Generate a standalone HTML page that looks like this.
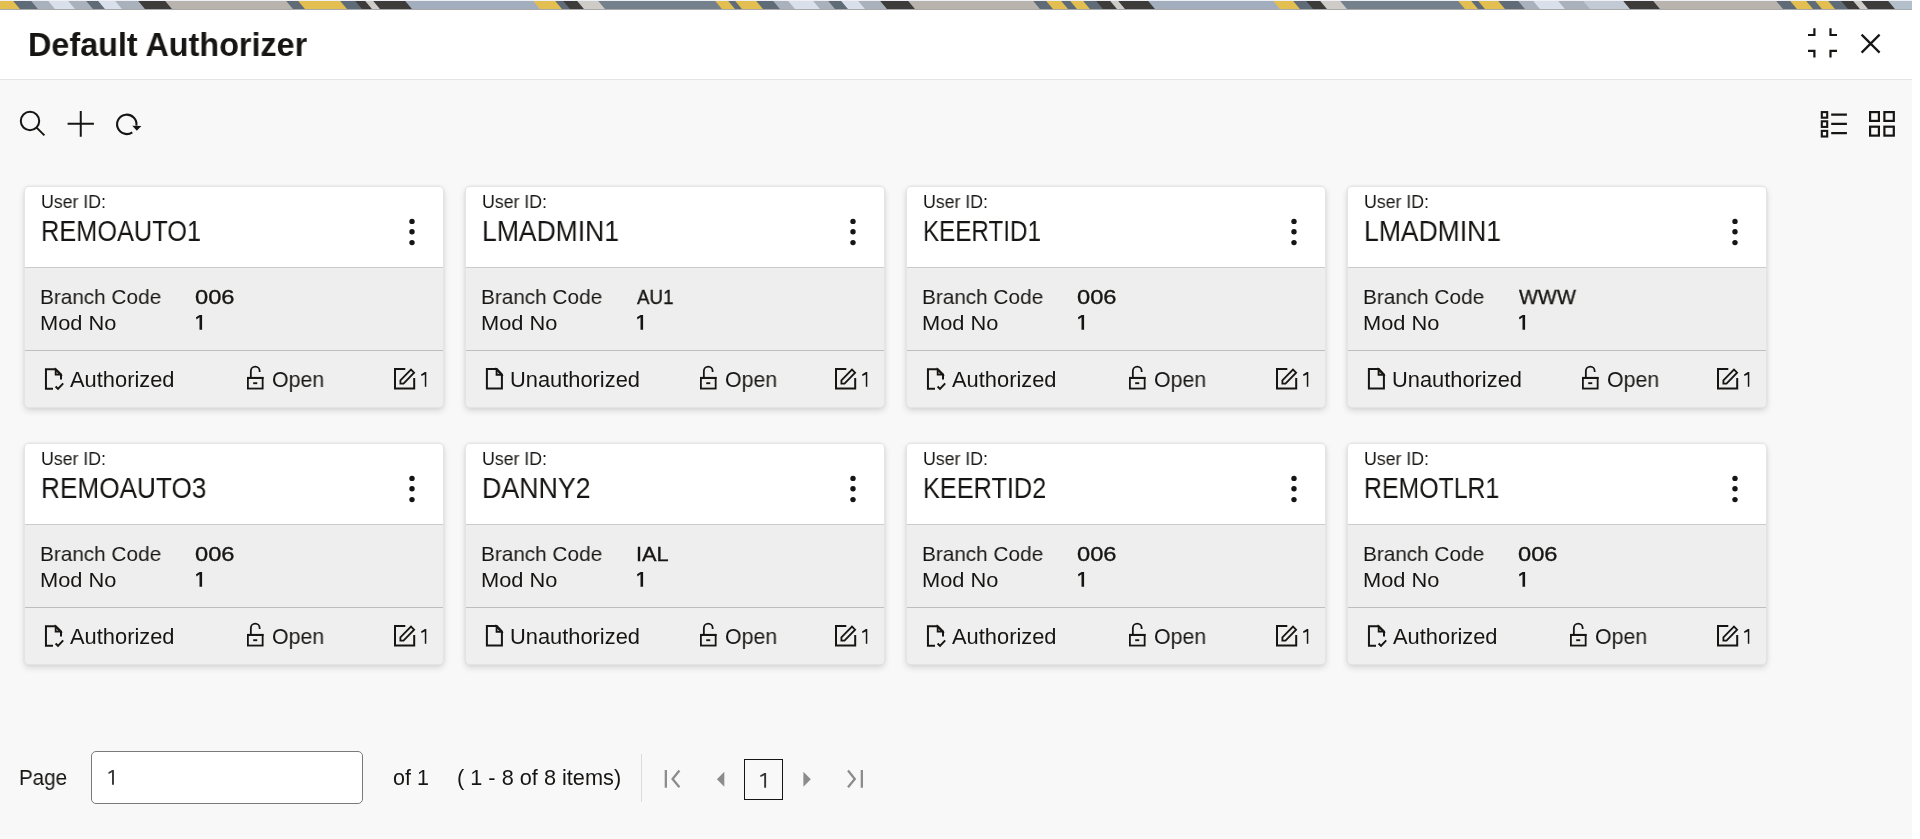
<!DOCTYPE html><html><head><meta charset="utf-8"><title>Default Authorizer</title><style>

*{margin:0;padding:0;box-sizing:border-box}
html,body{width:1920px;height:839px;overflow:hidden;background:#fff;font-family:"Liberation Sans",sans-serif}
.t{position:absolute;white-space:pre;line-height:1;font-family:"Liberation Sans",sans-serif;transform-origin:0 0;will-change:transform}
.ic{position:absolute;overflow:visible}
#strip{position:absolute;left:0;top:1px;width:1912px;height:9px;overflow:hidden;background:#8e99a6;border-bottom:1px solid #a9a9a9}
#top0{position:absolute;left:0;top:0;width:1912px;height:1px;background:#eef0f6}
#strip i{position:absolute;top:0;height:9px;transform:skewX(40deg)}
#hdr{position:absolute;left:0;top:10px;width:1912px;height:70px;background:#fff;border-bottom:1px solid #e4e4e4}
#main{position:absolute;left:0;top:80px;width:1912px;height:759px;background:#f8f8f8}
.card{position:absolute;width:420px;height:222px;border:1px solid #e4e4e4;border-radius:5px;background:#eeeeee;box-shadow:0 3px 6px rgba(0,0,0,0.13),0 0 3px rgba(0,0,0,0.06);overflow:hidden}
.card .hd{position:absolute;left:0;top:0;right:0;height:81px;background:#fff;border-bottom:1px solid #cbcbcb}
.card .ft{position:absolute;left:0;top:163px;right:0;bottom:0;background:#efefef;border-top:1px solid #bebebe}
#inp{position:absolute;left:91px;top:751px;width:272px;height:53px;border:1px solid #7a7a7a;border-radius:5px;background:#fff}
#sep{position:absolute;left:641px;top:754px;width:1px;height:48px;background:#dcdcdc}
#pbox{position:absolute;left:744px;top:759px;width:39px;height:41px;border:1px solid #161513}

</style></head><body>
<div id="top0"></div>
<div id="strip"><i style="left:-3px;width:21px;background:#e2bf50"></i><i style="left:17px;width:19px;background:#5f6c78"></i><i style="left:35px;width:18px;background:#a9b2bc"></i><i style="left:52px;width:21px;background:#d9e0eb"></i><i style="left:72px;width:19px;background:#a9b2bc"></i><i style="left:90px;width:13px;background:#5f6c78"></i><i style="left:102px;width:18px;background:#d9e0eb"></i><i style="left:119px;width:24px;background:#a9b2bc"></i><i style="left:142px;width:28px;background:#3d3c3a"></i><i style="left:169px;width:122px;background:#b8b3ad"></i><i style="left:290px;width:13px;background:#5f6c78"></i><i style="left:302px;width:43px;background:#e2bf50"></i><i style="left:344px;width:16px;background:#5f6c78"></i><i style="left:359px;width:11px;background:#3d3c3a"></i><i style="left:369px;width:9px;background:#cfccc7"></i><i style="left:377px;width:33px;background:#3d3c3a"></i><i style="left:409px;width:129px;background:#a2aebd"></i><i style="left:537px;width:23px;background:#e2bf50"></i><i style="left:559px;width:9px;background:#5f6c78"></i><i style="left:567px;width:15px;background:#3d3c3a"></i><i style="left:581px;width:22px;background:#cfccc7"></i><i style="left:602px;width:118px;background:#74818c"></i><i style="left:719px;width:14px;background:#e2bf50"></i><i style="left:732px;width:8px;background:#5f6c78"></i><i style="left:739px;width:22px;background:#e2bf50"></i><i style="left:760px;width:18px;background:#5f6c78"></i><i style="left:777px;width:16px;background:#a9b2bc"></i><i style="left:792px;width:26px;background:#d9e0eb"></i><i style="left:817px;width:16px;background:#a9b2bc"></i><i style="left:832px;width:14px;background:#5f6c78"></i><i style="left:845px;width:18px;background:#d9e0eb"></i><i style="left:862px;width:23px;background:#a9b2bc"></i><i style="left:884px;width:29px;background:#3d3c3a"></i><i style="left:912px;width:126px;background:#b8b3ad"></i><i style="left:1037px;width:14px;background:#5f6c78"></i><i style="left:1050px;width:16px;background:#e2bf50"></i><i style="left:1065px;width:10px;background:#5f6c78"></i><i style="left:1074px;width:14px;background:#e2bf50"></i><i style="left:1087px;width:14px;background:#5f6c78"></i><i style="left:1100px;width:15px;background:#3d3c3a"></i><i style="left:1114px;width:9px;background:#cfccc7"></i><i style="left:1122px;width:31px;background:#3d3c3a"></i><i style="left:1152px;width:126px;background:#a2aebd"></i><i style="left:1277px;width:21px;background:#e2bf50"></i><i style="left:1297px;width:14px;background:#5f6c78"></i><i style="left:1310px;width:15px;background:#3d3c3a"></i><i style="left:1324px;width:21px;background:#cfccc7"></i><i style="left:1344px;width:119px;background:#74818c"></i><i style="left:1462px;width:14px;background:#e2bf50"></i><i style="left:1475px;width:8px;background:#5f6c78"></i><i style="left:1482px;width:21px;background:#e2bf50"></i><i style="left:1502px;width:21px;background:#5f6c78"></i><i style="left:1522px;width:16px;background:#a9b2bc"></i><i style="left:1537px;width:26px;background:#d9e0eb"></i><i style="left:1562px;width:26px;background:#a9b2bc"></i><i style="left:1587px;width:41px;background:#c2cad6"></i><i style="left:1627px;width:31px;background:#3d3c3a"></i><i style="left:1657px;width:124px;background:#b8b3ad"></i><i style="left:1780px;width:15px;background:#5f6c78"></i><i style="left:1794px;width:17px;background:#e2bf50"></i><i style="left:1810px;width:10px;background:#5f6c78"></i><i style="left:1819px;width:14px;background:#e2bf50"></i><i style="left:1832px;width:14px;background:#5f6c78"></i><i style="left:1845px;width:13px;background:#3d3c3a"></i><i style="left:1857px;width:9px;background:#cfccc7"></i><i style="left:1865px;width:28px;background:#3d3c3a"></i><i style="left:1892px;width:28px;background:#b4bfcc"></i></div>
<div id="hdr"></div>
<div id="main"></div>
<div class="card" style="left:24px;top:186px"><div class="hd"></div><div class="ft"></div></div>
<div class="card" style="left:465px;top:186px"><div class="hd"></div><div class="ft"></div></div>
<div class="card" style="left:906px;top:186px"><div class="hd"></div><div class="ft"></div></div>
<div class="card" style="left:1347px;top:186px"><div class="hd"></div><div class="ft"></div></div>
<div class="card" style="left:24px;top:443px"><div class="hd"></div><div class="ft"></div></div>
<div class="card" style="left:465px;top:443px"><div class="hd"></div><div class="ft"></div></div>
<div class="card" style="left:906px;top:443px"><div class="hd"></div><div class="ft"></div></div>
<div class="card" style="left:1347px;top:443px"><div class="hd"></div><div class="ft"></div></div>
<div id="inp"></div><div id="sep"></div><div id="pbox"></div>
<svg class="ic" style="left:14px;top:106px" width="36" height="36" viewBox="0 0 36 36"><circle cx="16" cy="15" r="9.2" fill="none" stroke="#161513" stroke-width="2"/><path d="M22.6 21.6 L30.4 29.4" fill="none" stroke="#161513" stroke-width="2" stroke-linecap="butt"/></svg>
<svg class="ic" style="left:62px;top:105px" width="38" height="38" viewBox="0 0 38 38"><path d="M18.75 5.9 V31.8 M5.6 18.7 H31.9" fill="none" stroke="#161513" stroke-width="2"/></svg>
<svg class="ic" style="left:110px;top:106px" width="36" height="36" viewBox="0 0 36 36"><path d="M22.26 26.35 A9.7 9.7 0 1 1 26.4 19.6" fill="none" stroke="#161513" stroke-width="2.1"/><path d="M22.3 19.7 L31.4 20.1 L26.8 24.8 Z" fill="#161513"/></svg>
<svg class="ic" style="left:1800px;top:20px" width="45" height="45" viewBox="0 0 45 45"><path d="M8 15 H14.4 V8.3 M30.5 8.3 V15 H37 M8 30.8 H14.4 V37.5 M30.5 37.5 V30.8 H37" fill="none" stroke="#161513" stroke-width="2.2"/></svg>
<svg class="ic" style="left:1855px;top:27px" width="32" height="32" viewBox="0 0 32 32"><path d="M6.6 7.6 L24.6 25.6 M24.6 7.6 L6.6 25.6" fill="none" stroke="#161513" stroke-width="2.2"/></svg>
<svg class="ic" style="left:1815px;top:105px" width="40" height="40" viewBox="0 0 40 40"><rect x="6.8" y="7.1" width="5.4" height="5.6" fill="none" stroke="#161513" stroke-width="2.1"/><rect x="6.8" y="16.3" width="5.4" height="5.6" fill="none" stroke="#161513" stroke-width="2.1"/><rect x="6.8" y="25.9" width="5.4" height="5.6" fill="none" stroke="#161513" stroke-width="2.1"/><path d="M16.2 9.6 H31.9 M16.2 18.8 H31.9 M16.2 28.1 H31.9" fill="none" stroke="#161513" stroke-width="2.3"/></svg>
<svg class="ic" style="left:1865px;top:105px" width="40" height="40" viewBox="0 0 40 40"><rect x="5.1" y="7.1" width="8.8" height="8.8" fill="none" stroke="#161513" stroke-width="2.2"/><rect x="19.4" y="7.1" width="9.4" height="8.8" fill="none" stroke="#161513" stroke-width="2.2"/><rect x="5.1" y="21.7" width="8.8" height="8.9" fill="none" stroke="#161513" stroke-width="2.2"/><rect x="19.4" y="21.7" width="9.4" height="8.9" fill="none" stroke="#161513" stroke-width="2.2"/></svg>
<svg class="ic" style="left:405px;top:214px" width="14" height="30" viewBox="0 0 14 30"><circle cx="7" cy="7.4" r="2.7" fill="#161513"/><circle cx="7" cy="17.8" r="2.7" fill="#161513"/><circle cx="7" cy="28.6" r="2.7" fill="#161513"/></svg>
<svg class="ic" style="left:40px;top:363px" width="30" height="30" viewBox="0 0 30 30"><path d="M13 25.7 H5.95 V6.2 H15.7 L21 11.5 V16.5" fill="none" stroke="#161513" stroke-width="2"/><path d="M15.6 6.4 V11.6 H20.8 Z" fill="#161513" fill-opacity="0.3" stroke="#161513" stroke-width="1.7"/><path d="M15.6 23.5 L18 25.9 L23.2 20.4" fill="none" stroke="#161513" stroke-width="2"/></svg>
<svg class="ic" style="left:242.15px;top:361px" width="26" height="32" viewBox="0 0 26 32"><rect x="5.9" y="16.95" width="14.75" height="10.6" fill="none" stroke="#161513" stroke-width="1.8"/><path d="M5 16.9 H21.55" stroke="#161513" stroke-width="2"/><path d="M8.85 16.5 V10.1 A4.4 4.4 0 0 1 17.65 10.1 V11.1" fill="none" stroke="#161513" stroke-width="1.8"/><path d="M11.2 22.2 H15.25" stroke="#161513" stroke-width="1.9"/></svg>
<svg class="ic" style="left:388.7px;top:363px" width="30" height="30" viewBox="0 0 30 30"><path d="M16.3 6.1 H6 V25.45 H25.2 V15" fill="none" stroke="#161513" stroke-width="2"/><path d="M11.4 20.6 V17.3 L22 6.6 L25.1 9.7 L14.5 20.6 Z" fill="none" stroke="#161513" stroke-width="1.8" stroke-linejoin="miter"/></svg>
<svg class="ic" style="left:846px;top:214px" width="14" height="30" viewBox="0 0 14 30"><circle cx="7" cy="7.4" r="2.7" fill="#161513"/><circle cx="7" cy="17.8" r="2.7" fill="#161513"/><circle cx="7" cy="28.6" r="2.7" fill="#161513"/></svg>
<svg class="ic" style="left:481px;top:363px" width="30" height="30" viewBox="0 0 30 30"><path d="M5.9 6.1 H15.8 L20.9 11.4 V25.6 H5.9 Z" fill="none" stroke="#161513" stroke-width="2"/><path d="M15.5 6.3 V11.8 H20.7 Z" fill="#161513" fill-opacity="0.3" stroke="#161513" stroke-width="1.7"/></svg>
<svg class="ic" style="left:695.16px;top:361px" width="26" height="32" viewBox="0 0 26 32"><rect x="5.9" y="16.95" width="14.75" height="10.6" fill="none" stroke="#161513" stroke-width="1.8"/><path d="M5 16.9 H21.55" stroke="#161513" stroke-width="2"/><path d="M8.85 16.5 V10.1 A4.4 4.4 0 0 1 17.65 10.1 V11.1" fill="none" stroke="#161513" stroke-width="1.8"/><path d="M11.2 22.2 H15.25" stroke="#161513" stroke-width="1.9"/></svg>
<svg class="ic" style="left:829.7px;top:363px" width="30" height="30" viewBox="0 0 30 30"><path d="M16.3 6.1 H6 V25.45 H25.2 V15" fill="none" stroke="#161513" stroke-width="2"/><path d="M11.4 20.6 V17.3 L22 6.6 L25.1 9.7 L14.5 20.6 Z" fill="none" stroke="#161513" stroke-width="1.8" stroke-linejoin="miter"/></svg>
<svg class="ic" style="left:1287px;top:214px" width="14" height="30" viewBox="0 0 14 30"><circle cx="7" cy="7.4" r="2.7" fill="#161513"/><circle cx="7" cy="17.8" r="2.7" fill="#161513"/><circle cx="7" cy="28.6" r="2.7" fill="#161513"/></svg>
<svg class="ic" style="left:922px;top:363px" width="30" height="30" viewBox="0 0 30 30"><path d="M13 25.7 H5.95 V6.2 H15.7 L21 11.5 V16.5" fill="none" stroke="#161513" stroke-width="2"/><path d="M15.6 6.4 V11.6 H20.8 Z" fill="#161513" fill-opacity="0.3" stroke="#161513" stroke-width="1.7"/><path d="M15.6 23.5 L18 25.9 L23.2 20.4" fill="none" stroke="#161513" stroke-width="2"/></svg>
<svg class="ic" style="left:1124.15px;top:361px" width="26" height="32" viewBox="0 0 26 32"><rect x="5.9" y="16.95" width="14.75" height="10.6" fill="none" stroke="#161513" stroke-width="1.8"/><path d="M5 16.9 H21.55" stroke="#161513" stroke-width="2"/><path d="M8.85 16.5 V10.1 A4.4 4.4 0 0 1 17.65 10.1 V11.1" fill="none" stroke="#161513" stroke-width="1.8"/><path d="M11.2 22.2 H15.25" stroke="#161513" stroke-width="1.9"/></svg>
<svg class="ic" style="left:1270.7px;top:363px" width="30" height="30" viewBox="0 0 30 30"><path d="M16.3 6.1 H6 V25.45 H25.2 V15" fill="none" stroke="#161513" stroke-width="2"/><path d="M11.4 20.6 V17.3 L22 6.6 L25.1 9.7 L14.5 20.6 Z" fill="none" stroke="#161513" stroke-width="1.8" stroke-linejoin="miter"/></svg>
<svg class="ic" style="left:1728px;top:214px" width="14" height="30" viewBox="0 0 14 30"><circle cx="7" cy="7.4" r="2.7" fill="#161513"/><circle cx="7" cy="17.8" r="2.7" fill="#161513"/><circle cx="7" cy="28.6" r="2.7" fill="#161513"/></svg>
<svg class="ic" style="left:1363px;top:363px" width="30" height="30" viewBox="0 0 30 30"><path d="M5.9 6.1 H15.8 L20.9 11.4 V25.6 H5.9 Z" fill="none" stroke="#161513" stroke-width="2"/><path d="M15.5 6.3 V11.8 H20.7 Z" fill="#161513" fill-opacity="0.3" stroke="#161513" stroke-width="1.7"/></svg>
<svg class="ic" style="left:1577.16px;top:361px" width="26" height="32" viewBox="0 0 26 32"><rect x="5.9" y="16.95" width="14.75" height="10.6" fill="none" stroke="#161513" stroke-width="1.8"/><path d="M5 16.9 H21.55" stroke="#161513" stroke-width="2"/><path d="M8.85 16.5 V10.1 A4.4 4.4 0 0 1 17.65 10.1 V11.1" fill="none" stroke="#161513" stroke-width="1.8"/><path d="M11.2 22.2 H15.25" stroke="#161513" stroke-width="1.9"/></svg>
<svg class="ic" style="left:1711.7px;top:363px" width="30" height="30" viewBox="0 0 30 30"><path d="M16.3 6.1 H6 V25.45 H25.2 V15" fill="none" stroke="#161513" stroke-width="2"/><path d="M11.4 20.6 V17.3 L22 6.6 L25.1 9.7 L14.5 20.6 Z" fill="none" stroke="#161513" stroke-width="1.8" stroke-linejoin="miter"/></svg>
<svg class="ic" style="left:405px;top:471px" width="14" height="30" viewBox="0 0 14 30"><circle cx="7" cy="7.4" r="2.7" fill="#161513"/><circle cx="7" cy="17.8" r="2.7" fill="#161513"/><circle cx="7" cy="28.6" r="2.7" fill="#161513"/></svg>
<svg class="ic" style="left:40px;top:620px" width="30" height="30" viewBox="0 0 30 30"><path d="M13 25.7 H5.95 V6.2 H15.7 L21 11.5 V16.5" fill="none" stroke="#161513" stroke-width="2"/><path d="M15.6 6.4 V11.6 H20.8 Z" fill="#161513" fill-opacity="0.3" stroke="#161513" stroke-width="1.7"/><path d="M15.6 23.5 L18 25.9 L23.2 20.4" fill="none" stroke="#161513" stroke-width="2"/></svg>
<svg class="ic" style="left:242.15px;top:618px" width="26" height="32" viewBox="0 0 26 32"><rect x="5.9" y="16.95" width="14.75" height="10.6" fill="none" stroke="#161513" stroke-width="1.8"/><path d="M5 16.9 H21.55" stroke="#161513" stroke-width="2"/><path d="M8.85 16.5 V10.1 A4.4 4.4 0 0 1 17.65 10.1 V11.1" fill="none" stroke="#161513" stroke-width="1.8"/><path d="M11.2 22.2 H15.25" stroke="#161513" stroke-width="1.9"/></svg>
<svg class="ic" style="left:388.7px;top:620px" width="30" height="30" viewBox="0 0 30 30"><path d="M16.3 6.1 H6 V25.45 H25.2 V15" fill="none" stroke="#161513" stroke-width="2"/><path d="M11.4 20.6 V17.3 L22 6.6 L25.1 9.7 L14.5 20.6 Z" fill="none" stroke="#161513" stroke-width="1.8" stroke-linejoin="miter"/></svg>
<svg class="ic" style="left:846px;top:471px" width="14" height="30" viewBox="0 0 14 30"><circle cx="7" cy="7.4" r="2.7" fill="#161513"/><circle cx="7" cy="17.8" r="2.7" fill="#161513"/><circle cx="7" cy="28.6" r="2.7" fill="#161513"/></svg>
<svg class="ic" style="left:481px;top:620px" width="30" height="30" viewBox="0 0 30 30"><path d="M5.9 6.1 H15.8 L20.9 11.4 V25.6 H5.9 Z" fill="none" stroke="#161513" stroke-width="2"/><path d="M15.5 6.3 V11.8 H20.7 Z" fill="#161513" fill-opacity="0.3" stroke="#161513" stroke-width="1.7"/></svg>
<svg class="ic" style="left:695.16px;top:618px" width="26" height="32" viewBox="0 0 26 32"><rect x="5.9" y="16.95" width="14.75" height="10.6" fill="none" stroke="#161513" stroke-width="1.8"/><path d="M5 16.9 H21.55" stroke="#161513" stroke-width="2"/><path d="M8.85 16.5 V10.1 A4.4 4.4 0 0 1 17.65 10.1 V11.1" fill="none" stroke="#161513" stroke-width="1.8"/><path d="M11.2 22.2 H15.25" stroke="#161513" stroke-width="1.9"/></svg>
<svg class="ic" style="left:829.7px;top:620px" width="30" height="30" viewBox="0 0 30 30"><path d="M16.3 6.1 H6 V25.45 H25.2 V15" fill="none" stroke="#161513" stroke-width="2"/><path d="M11.4 20.6 V17.3 L22 6.6 L25.1 9.7 L14.5 20.6 Z" fill="none" stroke="#161513" stroke-width="1.8" stroke-linejoin="miter"/></svg>
<svg class="ic" style="left:1287px;top:471px" width="14" height="30" viewBox="0 0 14 30"><circle cx="7" cy="7.4" r="2.7" fill="#161513"/><circle cx="7" cy="17.8" r="2.7" fill="#161513"/><circle cx="7" cy="28.6" r="2.7" fill="#161513"/></svg>
<svg class="ic" style="left:922px;top:620px" width="30" height="30" viewBox="0 0 30 30"><path d="M13 25.7 H5.95 V6.2 H15.7 L21 11.5 V16.5" fill="none" stroke="#161513" stroke-width="2"/><path d="M15.6 6.4 V11.6 H20.8 Z" fill="#161513" fill-opacity="0.3" stroke="#161513" stroke-width="1.7"/><path d="M15.6 23.5 L18 25.9 L23.2 20.4" fill="none" stroke="#161513" stroke-width="2"/></svg>
<svg class="ic" style="left:1124.15px;top:618px" width="26" height="32" viewBox="0 0 26 32"><rect x="5.9" y="16.95" width="14.75" height="10.6" fill="none" stroke="#161513" stroke-width="1.8"/><path d="M5 16.9 H21.55" stroke="#161513" stroke-width="2"/><path d="M8.85 16.5 V10.1 A4.4 4.4 0 0 1 17.65 10.1 V11.1" fill="none" stroke="#161513" stroke-width="1.8"/><path d="M11.2 22.2 H15.25" stroke="#161513" stroke-width="1.9"/></svg>
<svg class="ic" style="left:1270.7px;top:620px" width="30" height="30" viewBox="0 0 30 30"><path d="M16.3 6.1 H6 V25.45 H25.2 V15" fill="none" stroke="#161513" stroke-width="2"/><path d="M11.4 20.6 V17.3 L22 6.6 L25.1 9.7 L14.5 20.6 Z" fill="none" stroke="#161513" stroke-width="1.8" stroke-linejoin="miter"/></svg>
<svg class="ic" style="left:1728px;top:471px" width="14" height="30" viewBox="0 0 14 30"><circle cx="7" cy="7.4" r="2.7" fill="#161513"/><circle cx="7" cy="17.8" r="2.7" fill="#161513"/><circle cx="7" cy="28.6" r="2.7" fill="#161513"/></svg>
<svg class="ic" style="left:1363px;top:620px" width="30" height="30" viewBox="0 0 30 30"><path d="M13 25.7 H5.95 V6.2 H15.7 L21 11.5 V16.5" fill="none" stroke="#161513" stroke-width="2"/><path d="M15.6 6.4 V11.6 H20.8 Z" fill="#161513" fill-opacity="0.3" stroke="#161513" stroke-width="1.7"/><path d="M15.6 23.5 L18 25.9 L23.2 20.4" fill="none" stroke="#161513" stroke-width="2"/></svg>
<svg class="ic" style="left:1565.15px;top:618px" width="26" height="32" viewBox="0 0 26 32"><rect x="5.9" y="16.95" width="14.75" height="10.6" fill="none" stroke="#161513" stroke-width="1.8"/><path d="M5 16.9 H21.55" stroke="#161513" stroke-width="2"/><path d="M8.85 16.5 V10.1 A4.4 4.4 0 0 1 17.65 10.1 V11.1" fill="none" stroke="#161513" stroke-width="1.8"/><path d="M11.2 22.2 H15.25" stroke="#161513" stroke-width="1.9"/></svg>
<svg class="ic" style="left:1711.7px;top:620px" width="30" height="30" viewBox="0 0 30 30"><path d="M16.3 6.1 H6 V25.45 H25.2 V15" fill="none" stroke="#161513" stroke-width="2"/><path d="M11.4 20.6 V17.3 L22 6.6 L25.1 9.7 L14.5 20.6 Z" fill="none" stroke="#161513" stroke-width="1.8" stroke-linejoin="miter"/></svg>
<svg class="ic" style="left:0;top:0" width="1920" height="839" viewBox="0 0 1920 839"><path d="M202.10 314.90 V329.80 H199.50 V317.20 L196.50 319.45 L196.00 317.35 L199.60 314.90 Z" fill="#161513"/><path d="M426.30 372.10 V386.80 H424.80 V374.40 L421.50 376.10 L421.00 374.50 L424.90 372.10 Z" fill="#161513"/><path d="M643.10 314.90 V329.80 H640.50 V317.20 L637.50 319.45 L637.00 317.35 L640.60 314.90 Z" fill="#161513"/><path d="M867.30 372.10 V386.80 H865.80 V374.40 L862.50 376.10 L862.00 374.50 L865.90 372.10 Z" fill="#161513"/><path d="M1084.10 314.90 V329.80 H1081.50 V317.20 L1078.50 319.45 L1078.00 317.35 L1081.60 314.90 Z" fill="#161513"/><path d="M1308.30 372.10 V386.80 H1306.80 V374.40 L1303.50 376.10 L1303.00 374.50 L1306.90 372.10 Z" fill="#161513"/><path d="M1525.10 314.90 V329.80 H1522.50 V317.20 L1519.50 319.45 L1519.00 317.35 L1522.60 314.90 Z" fill="#161513"/><path d="M1749.30 372.10 V386.80 H1747.80 V374.40 L1744.50 376.10 L1744.00 374.50 L1747.90 372.10 Z" fill="#161513"/><path d="M202.10 571.90 V586.80 H199.50 V574.20 L196.50 576.45 L196.00 574.35 L199.60 571.90 Z" fill="#161513"/><path d="M426.30 629.10 V643.80 H424.80 V631.40 L421.50 633.10 L421.00 631.50 L424.90 629.10 Z" fill="#161513"/><path d="M643.10 571.90 V586.80 H640.50 V574.20 L637.50 576.45 L637.00 574.35 L640.60 571.90 Z" fill="#161513"/><path d="M867.30 629.10 V643.80 H865.80 V631.40 L862.50 633.10 L862.00 631.50 L865.90 629.10 Z" fill="#161513"/><path d="M1084.10 571.90 V586.80 H1081.50 V574.20 L1078.50 576.45 L1078.00 574.35 L1081.60 571.90 Z" fill="#161513"/><path d="M1308.30 629.10 V643.80 H1306.80 V631.40 L1303.50 633.10 L1303.00 631.50 L1306.90 629.10 Z" fill="#161513"/><path d="M1525.10 571.90 V586.80 H1522.50 V574.20 L1519.50 576.45 L1519.00 574.35 L1522.60 571.90 Z" fill="#161513"/><path d="M1749.30 629.10 V643.80 H1747.80 V631.40 L1744.50 633.10 L1744.00 631.50 L1747.90 629.10 Z" fill="#161513"/><path d="M113.95 770.05 V784.70 H112.00 V772.35 L108.70 774.10 L108.20 772.50 L112.10 770.05 Z" fill="#3a3a3a"/><path d="M766.10 773.05 V787.70 H764.20 V775.35 L760.55 777.10 L760.05 775.50 L764.30 773.05 Z" fill="#333"/></svg>
<svg class="ic" style="left:660px;top:765px" width="28" height="28" viewBox="0 0 28 28"><path d="M5.85 5 V22.8 M19.4 5.6 L12.6 13.9 L19.4 22.2" fill="none" stroke="#8c8c8c" stroke-width="2.3"/></svg>
<svg class="ic" style="left:712px;top:767px" width="18" height="24" viewBox="0 0 18 24"><path d="M12.3 4.8 V19.7 L4.9 12.25 Z" fill="#8c8c8c"/></svg>
<svg class="ic" style="left:798px;top:767px" width="18" height="24" viewBox="0 0 18 24"><path d="M5.4 4.8 V19.7 L12.8 12.25 Z" fill="#8c8c8c"/></svg>
<svg class="ic" style="left:842px;top:765px" width="28" height="28" viewBox="0 0 28 28"><path d="M6 5.6 L12.8 13.9 L6 22.2 M19.85 5 V22.8" fill="none" stroke="#8c8c8c" stroke-width="2.3"/></svg>
<div class="t" style="left:28.24px;top:27.90px;font-size:33px;font-weight:bold;color:#161513;transform:scaleX(0.9805);">Default Authorizer</div>
<div class="t" style="left:40.82px;top:192.90px;font-size:18px;font-weight:normal;color:#161513;transform:scaleX(0.9841);">User ID:</div>
<div class="t" style="left:40.75px;top:216.90px;font-size:29px;font-weight:normal;color:#161513;transform:scaleX(0.8739);">REMOAUTO1</div>
<div class="t" style="left:39.62px;top:285.50px;font-size:21px;font-weight:normal;color:#161513;transform:scaleX(0.9883);">Branch Code</div>
<div class="t" style="left:39.52px;top:311.80px;font-size:21px;font-weight:normal;color:#161513;transform:scaleX(1.0394);">Mod No</div>
<div class="t" style="left:195.17px;top:285.60px;font-size:21px;font-weight:normal;color:#161513;transform:scaleX(1.1273);-webkit-text-stroke:0.35px #161513">006</div>
<div class="t" style="left:70.20px;top:369.95px;font-size:21.5px;font-weight:normal;color:#161513;transform:scaleX(1.0168);">Authorized</div>
<div class="t" style="left:271.51px;top:369.60px;font-size:21.5px;font-weight:normal;color:#161513;transform:scaleX(0.9900);">Open</div>
<div class="t" style="left:481.82px;top:192.90px;font-size:18px;font-weight:normal;color:#161513;transform:scaleX(0.9841);">User ID:</div>
<div class="t" style="left:482.23px;top:216.90px;font-size:29px;font-weight:normal;color:#161513;transform:scaleX(0.9143);">LMADMIN1</div>
<div class="t" style="left:480.62px;top:285.50px;font-size:21px;font-weight:normal;color:#161513;transform:scaleX(0.9883);">Branch Code</div>
<div class="t" style="left:480.52px;top:311.80px;font-size:21px;font-weight:normal;color:#161513;transform:scaleX(1.0394);">Mod No</div>
<div class="t" style="left:636.76px;top:285.60px;font-size:21px;font-weight:normal;color:#161513;transform:scaleX(0.8925);-webkit-text-stroke:0.35px #161513">AU1</div>
<div class="t" style="left:509.57px;top:369.95px;font-size:21.5px;font-weight:normal;color:#161513;transform:scaleX(1.0160);">Unauthorized</div>
<div class="t" style="left:724.91px;top:369.60px;font-size:21.5px;font-weight:normal;color:#161513;transform:scaleX(0.9900);">Open</div>
<div class="t" style="left:922.82px;top:192.90px;font-size:18px;font-weight:normal;color:#161513;transform:scaleX(0.9841);">User ID:</div>
<div class="t" style="left:923.43px;top:216.90px;font-size:29px;font-weight:normal;color:#161513;transform:scaleX(0.8341);">KEERTID1</div>
<div class="t" style="left:921.62px;top:285.50px;font-size:21px;font-weight:normal;color:#161513;transform:scaleX(0.9883);">Branch Code</div>
<div class="t" style="left:921.52px;top:311.80px;font-size:21px;font-weight:normal;color:#161513;transform:scaleX(1.0394);">Mod No</div>
<div class="t" style="left:1077.17px;top:285.60px;font-size:21px;font-weight:normal;color:#161513;transform:scaleX(1.1273);-webkit-text-stroke:0.35px #161513">006</div>
<div class="t" style="left:952.20px;top:369.95px;font-size:21.5px;font-weight:normal;color:#161513;transform:scaleX(1.0168);">Authorized</div>
<div class="t" style="left:1153.51px;top:369.60px;font-size:21.5px;font-weight:normal;color:#161513;transform:scaleX(0.9900);">Open</div>
<div class="t" style="left:1363.82px;top:192.90px;font-size:18px;font-weight:normal;color:#161513;transform:scaleX(0.9841);">User ID:</div>
<div class="t" style="left:1364.27px;top:216.90px;font-size:29px;font-weight:normal;color:#161513;transform:scaleX(0.9143);">LMADMIN1</div>
<div class="t" style="left:1362.62px;top:285.50px;font-size:21px;font-weight:normal;color:#161513;transform:scaleX(0.9883);">Branch Code</div>
<div class="t" style="left:1362.52px;top:311.80px;font-size:21px;font-weight:normal;color:#161513;transform:scaleX(1.0394);">Mod No</div>
<div class="t" style="left:1518.96px;top:285.60px;font-size:21px;font-weight:normal;color:#161513;transform:scaleX(0.9550);-webkit-text-stroke:0.35px #161513">WWW</div>
<div class="t" style="left:1391.57px;top:369.95px;font-size:21.5px;font-weight:normal;color:#161513;transform:scaleX(1.0160);">Unauthorized</div>
<div class="t" style="left:1606.91px;top:369.60px;font-size:21.5px;font-weight:normal;color:#161513;transform:scaleX(0.9900);">Open</div>
<div class="t" style="left:40.82px;top:449.90px;font-size:18px;font-weight:normal;color:#161513;transform:scaleX(0.9841);">User ID:</div>
<div class="t" style="left:40.69px;top:473.90px;font-size:29px;font-weight:normal;color:#161513;transform:scaleX(0.9028);">REMOAUTO3</div>
<div class="t" style="left:39.62px;top:542.50px;font-size:21px;font-weight:normal;color:#161513;transform:scaleX(0.9883);">Branch Code</div>
<div class="t" style="left:39.52px;top:568.80px;font-size:21px;font-weight:normal;color:#161513;transform:scaleX(1.0394);">Mod No</div>
<div class="t" style="left:195.17px;top:542.60px;font-size:21px;font-weight:normal;color:#161513;transform:scaleX(1.1273);-webkit-text-stroke:0.35px #161513">006</div>
<div class="t" style="left:70.20px;top:626.95px;font-size:21.5px;font-weight:normal;color:#161513;transform:scaleX(1.0168);">Authorized</div>
<div class="t" style="left:271.51px;top:626.60px;font-size:21.5px;font-weight:normal;color:#161513;transform:scaleX(0.9900);">Open</div>
<div class="t" style="left:481.82px;top:449.90px;font-size:18px;font-weight:normal;color:#161513;transform:scaleX(0.9841);">User ID:</div>
<div class="t" style="left:481.65px;top:473.90px;font-size:29px;font-weight:normal;color:#161513;transform:scaleX(0.9228);">DANNY2</div>
<div class="t" style="left:480.62px;top:542.50px;font-size:21px;font-weight:normal;color:#161513;transform:scaleX(0.9883);">Branch Code</div>
<div class="t" style="left:480.52px;top:568.80px;font-size:21px;font-weight:normal;color:#161513;transform:scaleX(1.0394);">Mod No</div>
<div class="t" style="left:635.98px;top:542.60px;font-size:21px;font-weight:normal;color:#161513;transform:scaleX(1.0345);-webkit-text-stroke:0.35px #161513">IAL</div>
<div class="t" style="left:509.57px;top:626.95px;font-size:21.5px;font-weight:normal;color:#161513;transform:scaleX(1.0160);">Unauthorized</div>
<div class="t" style="left:724.91px;top:626.60px;font-size:21.5px;font-weight:normal;color:#161513;transform:scaleX(0.9900);">Open</div>
<div class="t" style="left:922.82px;top:449.90px;font-size:18px;font-weight:normal;color:#161513;transform:scaleX(0.9841);">User ID:</div>
<div class="t" style="left:923.36px;top:473.90px;font-size:29px;font-weight:normal;color:#161513;transform:scaleX(0.8717);">KEERTID2</div>
<div class="t" style="left:921.62px;top:542.50px;font-size:21px;font-weight:normal;color:#161513;transform:scaleX(0.9883);">Branch Code</div>
<div class="t" style="left:921.52px;top:568.80px;font-size:21px;font-weight:normal;color:#161513;transform:scaleX(1.0394);">Mod No</div>
<div class="t" style="left:1077.17px;top:542.60px;font-size:21px;font-weight:normal;color:#161513;transform:scaleX(1.1273);-webkit-text-stroke:0.35px #161513">006</div>
<div class="t" style="left:952.20px;top:626.95px;font-size:21.5px;font-weight:normal;color:#161513;transform:scaleX(1.0168);">Authorized</div>
<div class="t" style="left:1153.51px;top:626.60px;font-size:21.5px;font-weight:normal;color:#161513;transform:scaleX(0.9900);">Open</div>
<div class="t" style="left:1363.82px;top:449.90px;font-size:18px;font-weight:normal;color:#161513;transform:scaleX(0.9841);">User ID:</div>
<div class="t" style="left:1363.89px;top:473.90px;font-size:29px;font-weight:normal;color:#161513;transform:scaleX(0.8568);">REMOTLR1</div>
<div class="t" style="left:1362.62px;top:542.50px;font-size:21px;font-weight:normal;color:#161513;transform:scaleX(0.9883);">Branch Code</div>
<div class="t" style="left:1362.52px;top:568.80px;font-size:21px;font-weight:normal;color:#161513;transform:scaleX(1.0394);">Mod No</div>
<div class="t" style="left:1518.17px;top:542.60px;font-size:21px;font-weight:normal;color:#161513;transform:scaleX(1.1273);-webkit-text-stroke:0.35px #161513">006</div>
<div class="t" style="left:1393.20px;top:626.95px;font-size:21.5px;font-weight:normal;color:#161513;transform:scaleX(1.0168);">Authorized</div>
<div class="t" style="left:1594.51px;top:626.60px;font-size:21.5px;font-weight:normal;color:#161513;transform:scaleX(0.9900);">Open</div>
<div class="t" style="left:19.34px;top:768.00px;font-size:21.5px;font-weight:normal;color:#161513;transform:scaleX(0.9574);">Page</div>
<div class="t" style="left:392.76px;top:768.00px;font-size:21.5px;font-weight:normal;color:#161513;transform:scaleX(0.9926);">of 1</div>
<div class="t" style="left:457.29px;top:767.70px;font-size:21.5px;font-weight:normal;color:#161513;transform:scaleX(1.0100);">( 1 - 8 of 8 items)</div>
</body></html>
